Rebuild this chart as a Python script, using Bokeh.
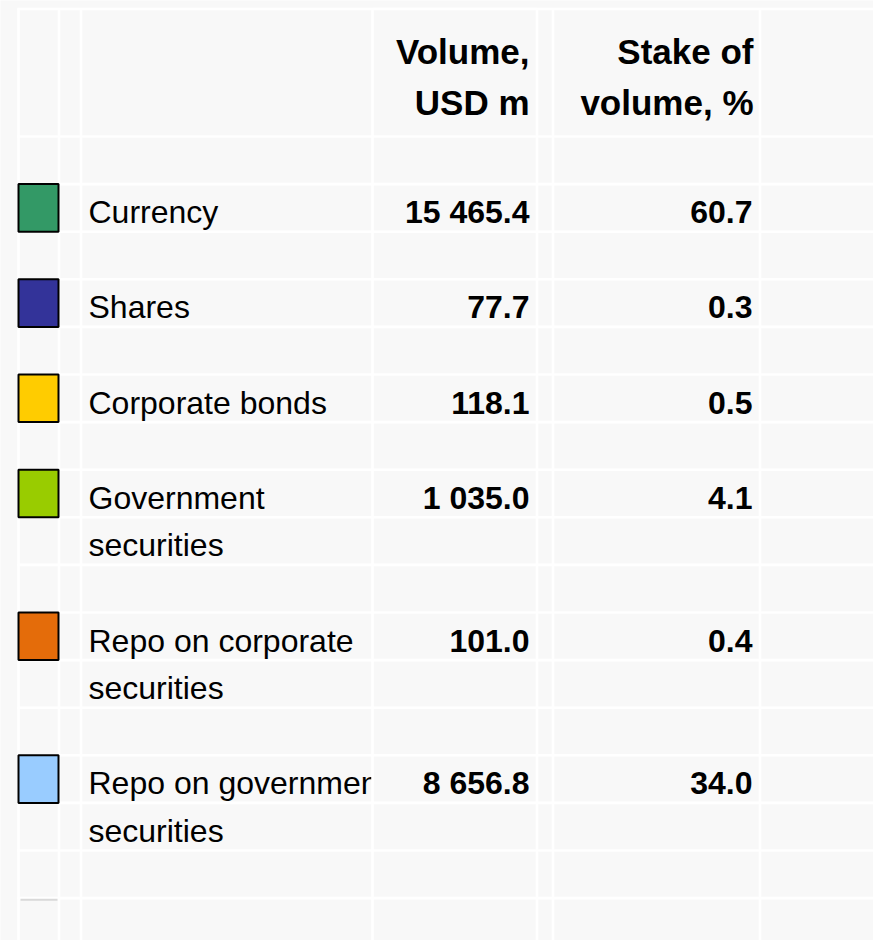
from bokeh.plotting import figure
from bokeh.models import Range1d
from bokeh.embed import file_html
from bokeh.resources import INLINE
from bokeh.core.properties import value

# ---------------- data ----------------
categories = ["Currency", "Shares", "Corporate bonds", "Government securities",
              "Repo on corporate securities", "Repo on government securities"]
label_lines = [["Currency"], ["Shares"], ["Corporate bonds"],
               ["Government", "securities"],
               ["Repo on corporate", "securities"],
               ["Repo on government", "securities"]]
volumes = [15465.4, 77.7, 118.1, 1035.0, 101.0, 8656.8]
stakes = [60.7, 0.3, 0.5, 4.1, 0.4, 34.0]
colors = ["#339966", "#333399", "#ffcc00", "#99cc00", "#e46c0a", "#99ccff"]
header_volume = ["Volume,", "USD m"]
header_stake = ["Stake of", "volume, %"]

# ---------------- layout ----------------
W, H = 873, 940
ROW_PX = 47.6
TABLE_TOP_PX = 136.0
BG = "#f8f8f8"
FONT = value("Liberation Sans")
LW = 2.6


def r_of(py):
    return (py - TABLE_TOP_PX) / ROW_PX


COL_EDGES = [18, 58.5, 80.5, 372, 536.5, 552.5, 759.5]
LABEL_X = 88
VOL_RIGHT = 529
STAKE_RIGHT = 752
BASE_OFF = 0.59          # baseline offset inside a row (row units)
HEADER_BASE = [r_of(51), r_of(102)]

p = figure(width=W, height=H,
           x_range=Range1d(0, W),
           y_range=Range1d(r_of(H), r_of(0)),
           output_backend="svg", toolbar_location=None,
           x_axis_location=None, y_axis_location=None, min_border=0)
p.background_fill_color = BG
p.border_fill_color = BG
p.outline_line_color = None
p.xgrid.visible = False
p.ygrid.visible = False

# row positions derived from the category list
row_starts = []
r = 1
for lines in label_lines:
    row_starts.append(r)
    r += len(lines) + 1
last_row = r

top_r = r_of(8.5)
bottom_r = r_of(H + 10)
hy = [top_r] + list(range(0, last_row + 1))

# horizontal white grid lines
p.segment(x0=[COL_EDGES[0] - 1.3] * len(hy), x1=[W + 5] * len(hy),
          y0=hy, y1=hy, line_color="white", line_width=LW)

# label texts (drawn over the grid, as in the sheet)
lx, ly, lt = [], [], []
for start, lines in zip(row_starts, label_lines):
    for i, t in enumerate(lines):
        lx.append(LABEL_X)
        ly.append(start + i + BASE_OFF)
        lt.append(t)
p.text(x=lx, y=ly, text=lt, text_font=FONT, text_font_size="32px",
       text_color="#000000", text_baseline="alphabetic", text_align="left")

# cell background of the volume column (clips overflowing labels)
p.quad(left=[COL_EDGES[3]], right=[COL_EDGES[4]], top=[top_r], bottom=[bottom_r],
       fill_color=BG, line_color=None)
p.segment(x0=[COL_EDGES[3]] * len(hy), x1=[COL_EDGES[4]] * len(hy),
          y0=hy, y1=hy, line_color="white", line_width=LW)

# vertical white grid lines
vx = COL_EDGES
p.segment(x0=vx, x1=vx, y0=[top_r] * len(vx), y1=[bottom_r] * len(vx),
          line_color="white", line_width=LW)

# faint grey remnant in the first column
p.segment(x0=[COL_EDGES[0] + 2], x1=[COL_EDGES[1] - 1.5],
          y0=[r_of(899.3)], y1=[r_of(899.3)], line_color="#d9d9d9", line_width=2)

# colour squares
p.quad(left=[COL_EDGES[0]] * len(colors), right=[COL_EDGES[1] - 0.5] * len(colors),
       top=row_starts, bottom=[s + 1 for s in row_starts],
       fill_color=colors, line_color="#000000", line_width=2)

# values
p.text(x=[VOL_RIGHT] * len(volumes), y=[s + BASE_OFF for s in row_starts],
       text=[f"{v:,.1f}".replace(",", " ") for v in volumes],
       text_font=FONT, text_font_size="32px", text_font_style="bold",
       text_color="#000000", text_baseline="alphabetic", text_align="right")
p.text(x=[STAKE_RIGHT] * len(stakes), y=[s + BASE_OFF for s in row_starts],
       text=[f"{s:.1f}" for s in stakes],
       text_font=FONT, text_font_size="32px", text_font_style="bold",
       text_color="#000000", text_baseline="alphabetic", text_align="right")

# headers
p.text(x=[VOL_RIGHT] * 2, y=HEADER_BASE, text=header_volume,
       text_font=FONT, text_font_size="35px", text_font_style="bold",
       text_color="#000000", text_baseline="alphabetic", text_align="right")
p.text(x=[STAKE_RIGHT + 1] * 2, y=HEADER_BASE, text=header_stake,
       text_font=FONT, text_font_size="35px", text_font_style="bold",
       text_color="#000000", text_baseline="alphabetic", text_align="right")

html = file_html(p, INLINE)
html = html.replace("<body>", '<body style="background-color:#f8f8f8;">', 1)
open("out.html", "w").write(html)
